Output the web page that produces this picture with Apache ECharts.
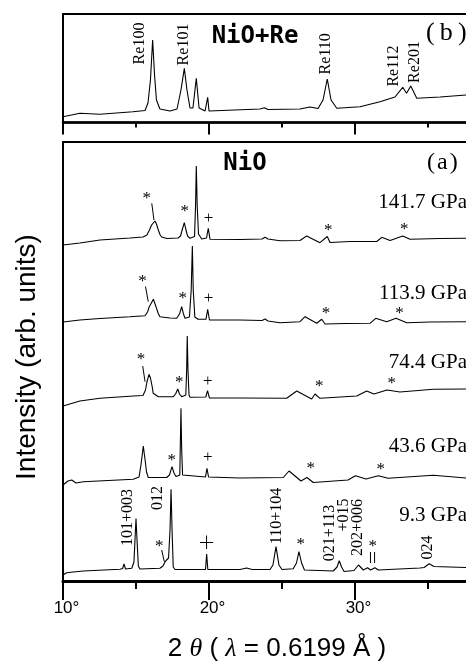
<!DOCTYPE html>
<html><head><meta charset="utf-8">
<script src="https://cdn.jsdelivr.net/npm/echarts@6/dist/echarts.min.js"></script>
<style>html,body{margin:0;padding:0;background:#fff}#c{width:466px;height:662px}</style>
</head><body><div id="c"></div>
<script>
// ---- data (2θ in degrees, intensity in arbitrary units incl. vertical offset) ----
const xTickValues = [10, 20, 30];
const pressureLabels = ['141.7 GPa', '113.9 GPa', '74.4 GPa', '43.6 GPa', '9.3 GPa'];

const curveNiORe = [[10.00,5.8],[11.16,9.2],[12.53,8.2],[14.79,10.8],[15.62,12],[15.82,19.5],[15.99,42.5],[16.14,82.5],[16.27,47.5],[16.40,22.5],[16.64,13.5],[17.33,11.5],[17.81,13.5],[18.08,32.5],[18.31,54.2],[18.49,32.5],[18.70,14.5],[18.90,14.5],[19.13,44.2],[19.32,14.5],[19.73,11.5],[19.91,25.2],[20.00,11.5],[23.49,13.5],[23.79,14.8],[24.04,13],[26.23,13.5],[26.92,15.5],[27.47,14],[27.81,22.5],[28.10,43.5],[28.36,22.5],[28.75,14.2],[30.34,15.8],[31.71,20.8],[32.74,25.5],[33.27,35.2],[33.53,29.2],[33.82,36.5],[34.23,24.2],[35.82,25.5],[37.60,27.5],[40,28]];

const p141 = [[10.00,336],[11.16,338],[12.53,341],[14.59,343],[15.48,344],[15.75,346],[15.92,351],[16.07,356],[16.16,358],[16.30,360],[16.40,357],[16.53,351],[16.64,346.5],[16.76,344],[17.12,342.5],[17.88,343],[18.05,345],[18.18,352],[18.31,358.3],[18.41,352],[18.53,345],[18.70,342.7],[19.01,344.5],[19.08,376],[19.13,415],[19.19,376],[19.28,347],[19.50,342],[19.83,343],[19.95,352.7],[20.07,341.7],[22.12,341.5],[23.63,342],[23.84,343.7],[24.04,342],[24.86,340.3],[26.23,340.5],[26.69,345],[27.60,338.3],[28.10,344.5],[28.29,338.5],[29.66,339.5],[31.49,339.5],[31.83,343.7],[32.40,340.5],[33.27,345],[33.77,341.7],[35.82,342.5],[37.60,342.7],[40,343]];

const p113 = [[10.00,259],[11.16,261],[12.53,262.5],[14.59,264.3],[15.62,265.3],[15.79,269],[15.91,274.3],[16.03,276],[16.19,281.7],[16.37,274.3],[16.51,268],[16.64,264.3],[17.33,263],[17.79,262.7],[17.98,267],[18.13,274.3],[18.25,267],[18.36,262.7],[18.66,264],[18.78,291],[18.86,335],[18.92,291],[19.03,264],[19.25,261.7],[19.79,261.7],[19.91,271.7],[20.03,261],[22.12,261],[23.63,260.5],[23.84,262],[24.04,260],[24.86,258.3],[26.23,259.3],[26.58,264.3],[27.38,257.7],[27.72,261.7],[27.95,257],[29.32,257.5],[31.03,257.7],[31.42,262.7],[32.17,259.3],[32.81,262.7],[33.54,258.3],[35.14,259],[37.60,259.3],[40,259.3]];

const p74 = [[10.00,175],[11.16,180],[12.53,182.7],[14.82,185],[15.48,185.5],[15.65,191],[15.75,199],[15.89,206.7],[15.99,203],[16.10,195],[16.18,187.7],[16.53,184.3],[17.55,184.3],[17.71,187],[17.86,192],[17.98,187],[18.13,184.3],[18.41,186],[18.47,211],[18.51,245],[18.56,211],[18.63,186],[18.70,183.7],[19.78,184],[19.90,190.3],[20.03,183],[22.12,183],[25.32,182.7],[26.01,190],[27.03,182],[27.26,187],[27.60,182.7],[30.12,185],[30.80,190],[31.30,187],[32.19,191],[33.08,189],[35.36,191.7],[37.60,192],[40,192]];

const p43 = [[10.00,96],[10.34,100],[10.60,101],[10.89,98],[11.39,99.3],[14.81,101.7],[15.21,104],[15.34,116],[15.50,135],[15.64,119],[15.72,109],[15.84,103.5],[17.10,103.5],[17.29,106],[17.47,114.3],[17.60,108],[17.74,104.5],[18.00,106],[18.03,131],[18.08,172.7],[18.13,131],[18.19,106],[18.29,104.3],[19.76,104],[19.86,112.7],[19.97,104],[22.12,103],[25.09,103.5],[25.48,110],[26.30,100],[26.71,103.5],[27.14,98.5],[29.52,101],[30.03,105.2],[30.75,102],[31.60,105.2],[32.26,102.7],[35.36,105.7],[37.60,103],[40,103]];

const p9 = [[10.00,6],[10.21,8],[10.36,8.5],[10.48,7],[11.39,10],[13.90,11.7],[14.08,12.5],[14.18,17],[14.28,12],[14.71,12.7],[14.86,19],[14.93,41],[15.00,62.5],[15.07,41],[15.16,15],[15.27,12],[16.64,12.7],[16.85,15],[16.99,19.3],[17.09,18.5],[17.23,23],[17.33,51],[17.40,91.7],[17.47,51],[17.55,14],[17.67,11.5],[19.76,11.5],[19.84,27],[19.92,11.5],[22.12,11.5],[22.58,13],[22.95,11.5],[24.18,11.5],[24.38,16],[24.59,34.3],[24.79,16],[25.00,11.5],[25.77,12.3],[25.99,18],[26.16,29.3],[26.34,18],[26.54,11],[28.51,10],[28.77,14],[28.92,20.3],[29.08,14],[29.25,9.5],[29.93,10.5],[30.24,16],[30.57,11],[30.86,13.2],[31.07,11],[31.37,13.3],[31.60,11],[34.45,13],[34.73,13.5],[35.08,17.3],[35.41,14.5],[37.60,13.5],[40,13.5]];

// annotations: [text, 2θ, intensity]
const reLabels = [['Re100',15.24,79],['Re101',18.29,78],['Re110',28.01,68.7],['Re112',32.67,56.5],['Re201',34.08,60.5]];
const hklLabels = [['101+003',14.42,63.5],['012',16.47,83],['110+104',24.66,65],['021+113',28.27,48],['+015',29.25,66],['202+006',30.17,53.5],['024',34.97,33.5]];
const markSymbols = [
  ['*',15.73,385],['*',18.34,372],['+',19.97,362],['*',28.17,353.7],['*',33.38,354.3],
  ['*',15.45,302],['*',18.20,285],['+',19.97,282],['*',28.01,270.3],['*',33.05,270.7],
  ['*',15.34,224.3],['*',17.97,201.7],['+',19.91,199.3],['*',27.55,197.7],['*',32.51,200.3],
  ['*',17.45,123.3],['+',19.91,123.7],['*',26.97,115],['*',31.76,114.3],
  ['*',16.60,37.7],['++',19.84,37.7],['*',26.28,39.3],['*',31.21,37.7]
];
const leaderLines = [
  [[16.08,377.7],[16.23,361]], [[15.65,294.5],[15.84,279.3]], [[15.46,215],[15.62,199.3]],
  [[16.76,31],[16.94,19.3]], [[31.06,29],[31.06,18]], [[31.34,29],[31.34,18]]
];

const series = [
  {data: curveNiORe, xAxisIndex: 0, yAxisIndex: 0},
  {data: p141, xAxisIndex: 1, yAxisIndex: 1},
  {data: p113, xAxisIndex: 1, yAxisIndex: 1},
  {data: p74, xAxisIndex: 1, yAxisIndex: 1},
  {data: p43, xAxisIndex: 1, yAxisIndex: 1},
  {data: p9, xAxisIndex: 1, yAxisIndex: 1}
].map(s => Object.assign({type: 'line', symbol: 'none', showSymbol: false, silent: true,
  lineStyle: {color: '#000', width: 1.1}}, s));

const axisX = (grid, tickLen, minorLen, lineW, labels) => ({
  type: 'value', gridIndex: grid, min: 10, max: 40, interval: 10,
  axisLine: {show: true, onZero: false, lineStyle: {color: '#000', width: lineW}},
  axisTick: {show: true, inside: false, length: tickLen, lineStyle: {color: '#000', width: 2}},
  minorTick: {show: true, splitNumber: 2, length: minorLen, lineStyle: {color: '#000', width: 2}},
  splitLine: {show: false}, minorSplitLine: {show: false},
  axisLabel: labels ? {
    show: true, margin: 19, color: '#000', fontSize: 17, fontFamily: 'Liberation Sans',
    padding: [0, 0, 0, 7],
    formatter: v => xTickValues.includes(v) ? v + '°' : ''
  } : {show: false}
});
const axisY = (grid, max) => ({
  type: 'value', gridIndex: grid, min: 0, max: max,
  axisLine: {show: true, lineStyle: {color: '#000', width: 2}},
  axisTick: {show: false}, axisLabel: {show: false}, splitLine: {show: false}
});

const option = {
  animation: false,
  backgroundColor: '#fff',
  grid: [
    {left: 63, top: 14, width: 438, height: 108.5, show: true, borderColor: '#000', borderWidth: 2, containLabel: false, outerBoundsMode: 'none'},
    {left: 63, top: 142, width: 438, height: 439, show: true, borderColor: '#000', borderWidth: 2, containLabel: false, outerBoundsMode: 'none'}
  ],
  xAxis: [axisX(0, 12, 5, 2.5, false), axisX(1, 19, 8, 3, true)],
  yAxis: [axisY(0, 108.5), axisY(1, 439)],
  series: series
};

const chart = echarts.init(document.getElementById('c'), null, {renderer: 'canvas'});
chart.setOption(option);

const serif = 'Liberation Serif';
const px = (g, x, y) => chart.convertToPixel({gridIndex: g}, [x, y]);
const graphics = [];
function txt(x, y, text, size, family, opts) {
  opts = opts || {};
  graphics.push({type: 'text', x: x, y: y, rotation: opts.rot || 0, silent: true,
    style: Object.assign({text: text, fontSize: size, fontFamily: family, fontWeight: opts.weight || 'normal',
      fill: '#000', align: opts.align || 'center', verticalAlign: 'middle'}, opts.style || {})});
}
reLabels.forEach(([t, x, y]) => { const p = px(0, x, y); txt(p[0], p[1], t, 16, serif, {rot: Math.PI / 2}); });
hklLabels.forEach(([t, x, y]) => { const p = px(1, x, y); txt(p[0], p[1], t, 16, serif, {rot: Math.PI / 2}); });
markSymbols.forEach(([t, x, y]) => {
  const p = px(1, x, y);
  if (t === '++') txt(p[0], p[1], '+', 21, 'DejaVu Sans', {style: {fontWeight: 'lighter'}});
  else txt(p[0], p[1] + (t === '*' ? 3 : 0), t, 17, serif);
});
leaderLines.forEach(([a, b]) => {
  const p1 = px(1, a[0], a[1]), p2 = px(1, b[0], b[1]);
  graphics.push({type: 'line', silent: true, shape: {x1: p1[0], y1: p1[1], x2: p2[0], y2: p2[1]}, style: {stroke: '#000', lineWidth: 1}});
});
// panel titles and labels
txt(255, 37, 'NiO+Re', 24, 'DejaVu Sans Mono', {weight: 'bold'});
txt(426, 33, '(\u2009b\u2009)', 26, serif, {align: 'left'});
txt(245, 164, 'NiO', 24, 'DejaVu Sans Mono', {weight: 'bold'});
txt(427, 163, '(\u200Aa\u200A)', 24, serif, {align: 'left'});
const pressY = [202, 293, 362, 446, 515];
pressureLabels.forEach((t, i) => txt(467, pressY[i], t, 21, serif, {align: 'right'}));
txt(27, 357, 'Intensity (arb. units)', 28, 'Liberation Sans', {rot: Math.PI / 2});
graphics.push({type: 'text', x: 277, y: 649, silent: true, style: {
  text: '2 {i|θ} ( {i|λ} = 0.6199 Å )', fontSize: 26, fontFamily: 'Liberation Sans', fill: '#000',
  align: 'center', verticalAlign: 'middle',
  rich: {i: {fontSize: 26, fontFamily: 'Liberation Serif', fontStyle: 'italic', fill: '#000'}}
}});
chart.setOption({graphic: graphics});
</script></body></html>
